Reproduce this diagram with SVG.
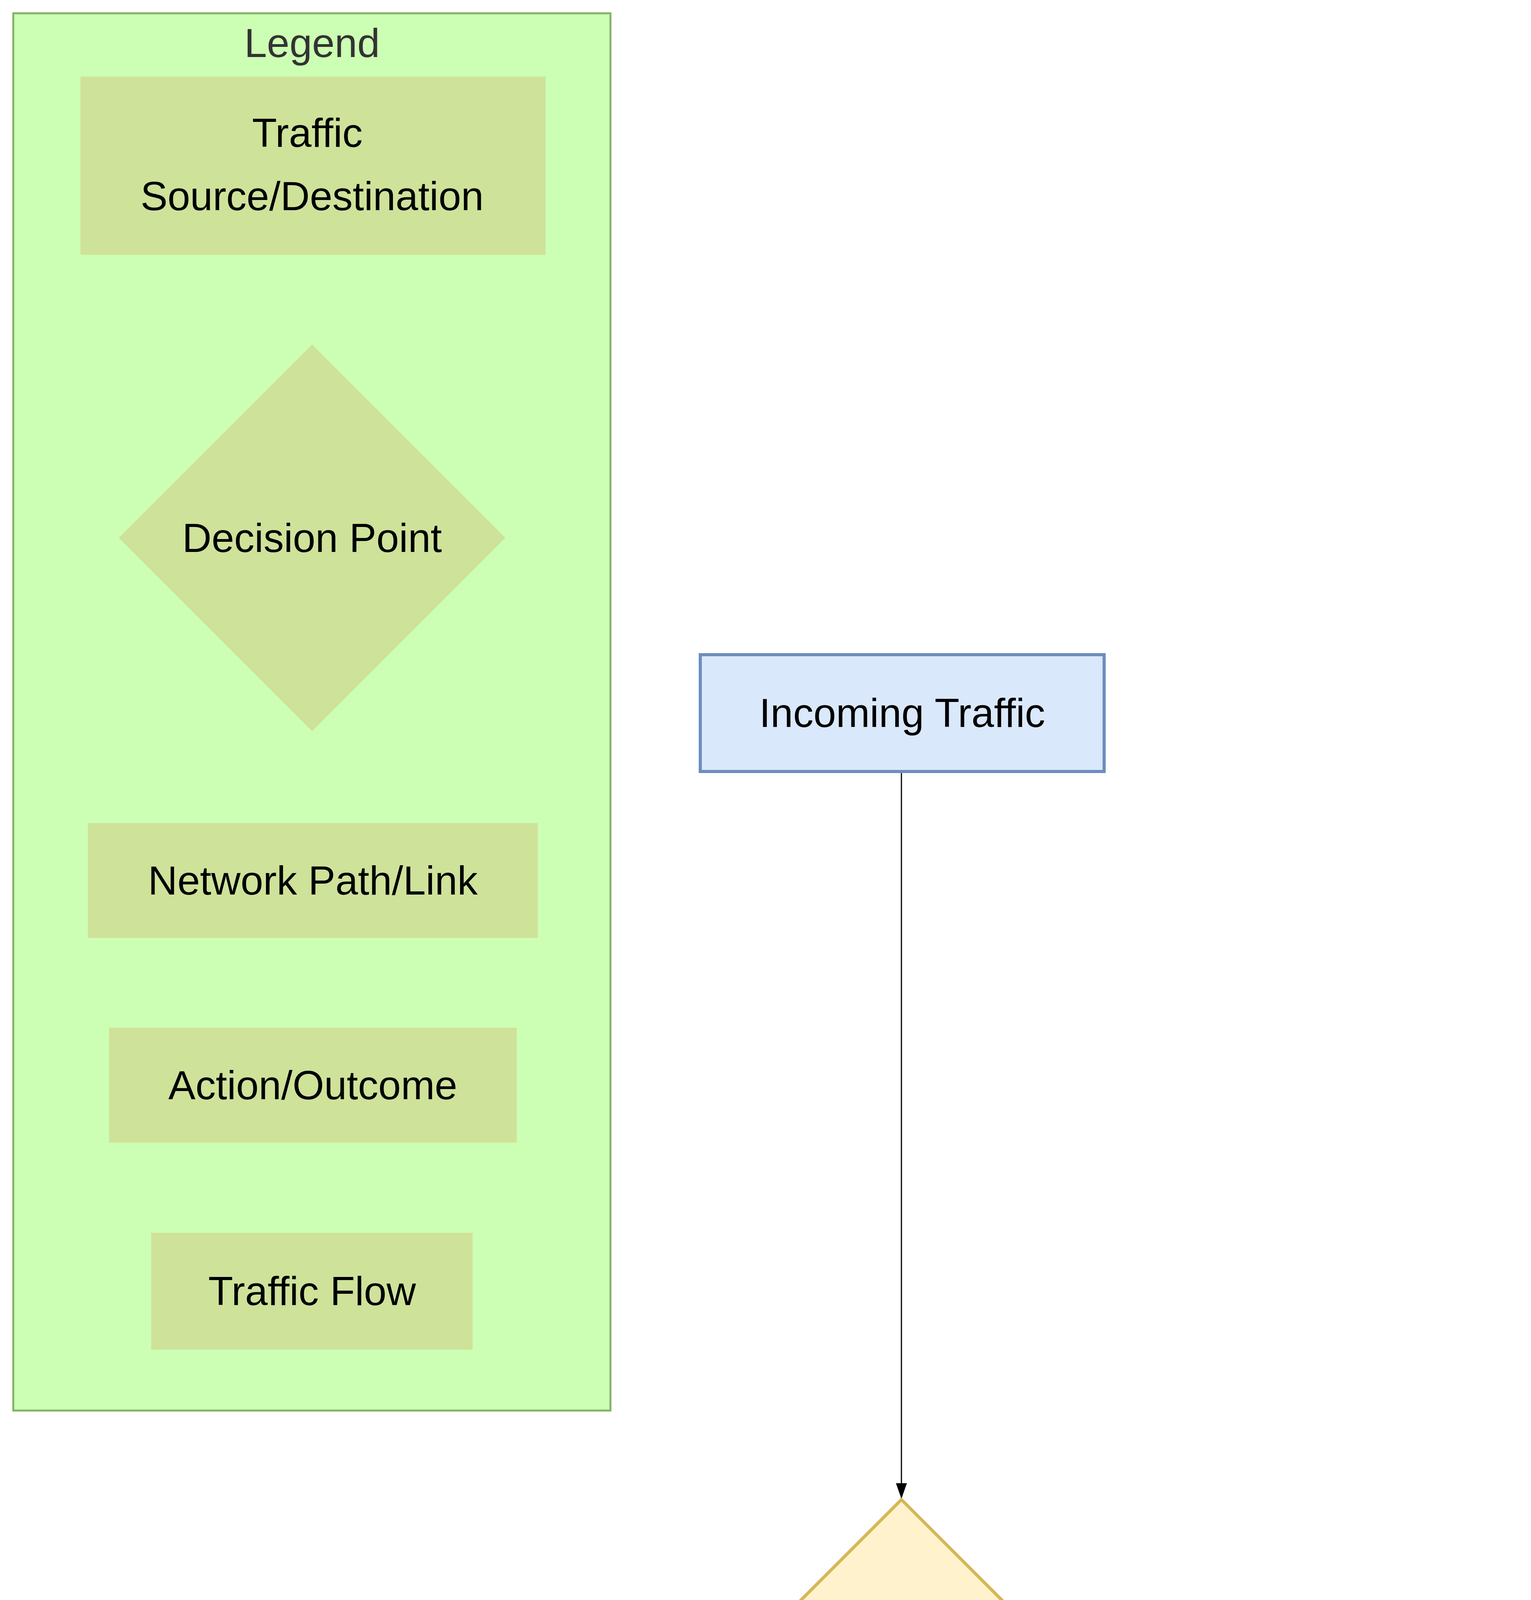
<svg xmlns="http://www.w3.org/2000/svg" width="3920" height="7680" viewBox="0 0 3920 7680">
<style>
text{font-family:"Liberation Sans",Arial,sans-serif;font-size:104px;fill:#000;text-anchor:middle;dominant-baseline:central}
.leg{fill:#cfe29a}
.e{fill:none;stroke:#000;stroke-width:3}
.lbl{fill:#e8e8e8}
</style>
<defs>
<marker id="ah" viewBox="0 0 10 10" refX="10" refY="5" markerWidth="14" markerHeight="14" markerUnits="userSpaceOnUse" orient="auto"><path d="M0,0L10,5L0,10z" fill="#000"/></marker>
<marker id="a" viewBox="0 0 10 10" refX="10" refY="5" markerWidth="40" markerHeight="40" markerUnits="userSpaceOnUse" orient="auto"><path d="M0,1.5L10,5L0,8.5z" fill="#000"/></marker>
</defs>
<rect width="3920" height="7680" fill="#fff"/>
<g id="legend">
<rect x="34" y="34" width="1529" height="3577" fill="#ccffb3" stroke="#82b366" stroke-width="5"/>
<text x="799" y="110" style="fill:#333">Legend</text>
<rect class="leg" x="206" y="196" width="1191" height="456"/>
<text x="787" y="340">Traffic</text><text x="799" y="502">Source/Destination</text>
<path class="leg" d="M799,882L1294,1377L799,1872L304,1377z"/>
<text x="799" y="1377">Decision Point</text>
<rect class="leg" x="225" y="2107" width="1152" height="294"/>
<text x="801" y="2254">Network Path/Link</text>
<rect class="leg" x="279" y="2631" width="1044" height="294"/>
<text x="801" y="2778">Action/Outcome</text>
<rect class="leg" x="387" y="3156" width="823" height="299"/>
<text x="799" y="3305">Traffic Flow</text>
</g>
<g id="connectors">
<path class="e" marker-end="url(#a)" d="M2308,1975L2308,3837"/>
<path class="e" d="M1936,4841C1650,5060 1440,5230 1323,5400"/>
<path class="e" marker-end="url(#a)" d="M1230,5728C1260,5800 1310,5860 1357,5919"/>
<path class="e" d="M2176,5076L2092,5400"/>
<path class="e" marker-end="url(#a)" d="M2004,5728L1945,5919"/>
<path class="e" d="M2636,4880C2790,5040 2920,5190 3009,5319"/>
<path class="e" marker-end="url(#a)" d="M3234,5811C3250,5900 3254,6000 3254,6164"/>
<path class="e" marker-end="url(#a)" d="M1798,6875L1798,7100"/>
<path class="e" marker-end="url(#a)" d="M3254,6630L3254,7100"/>
</g>
<g id="incoming">
<rect x="1793" y="1676" width="1034" height="299" fill="#dae8fc" stroke="#6c8ebf" stroke-width="8"/>
<text x="2310" y="1825">Incoming Traffic</text>
</g>
<g id="pbf">
<path d="M2308,3839L2992,4523L2308,5207L1624,4523z" fill="#fff2cc" stroke="#d6b656" stroke-width="8"/>
<text x="2296" y="4441">PBF Rule</text><text x="2310" y="4603">Evaluation</text>
</g>
<g id="lbl-ftp">
<rect class="lbl" x="605" y="5401" width="905" height="325"/>
<text x="1045" y="5482">Application = FTP</text><text x="1057" y="5644">Not Encrypted?</text>
</g>
<g id="lbl-biz">
<rect class="lbl" x="1600" y="5401" width="903" height="325"/>
<text x="2036" y="5482">Application =</text><text x="2052" y="5644">Business-Critical?</text>
</g>
<g id="lbl-other">
<rect class="lbl" x="2797" y="5319" width="905" height="488"/>
<text x="3237" y="5400">Other Traffic e.g.</text><text x="3237" y="5562">Web Browsing,</text><text x="3250" y="5724">Encrypted Apps</text>
</g>
<g id="leased">
<rect x="1207" y="5919" width="1179" height="956" fill="#d5e8d4" stroke="#82b366" stroke-width="8"/>
<text x="1782" y="6066">Leased Line -</text><text x="1782" y="6228">High Bandwidth,</text><text x="1782" y="6392">Low Latency,</text><text x="1782" y="6554">More Secure for</text><text x="1796" y="6716">Unencrypted</text>
</g>
<g id="internet">
<rect x="2666" y="6164" width="1176" height="466" fill="#e1d5e7" stroke="#9673a6" stroke-width="8"/>
<text x="3237" y="6306">Internet Link -</text><text x="3252" y="6468">Cheaper</text>
</g>
<g id="egress-leased">
<rect x="1207" y="7100" width="1179" height="461" fill="#d5e8d4" stroke="#82b366" stroke-width="8"/>
<text x="1782" y="7240">Egress via</text><text x="1796" y="7402">Leased Line</text>
</g>
<g id="egress-internet">
<rect x="2666" y="7100" width="1176" height="461" fill="#e1d5e7" stroke="#9673a6" stroke-width="8"/>
<text x="3240" y="7240">Egress via</text><text x="3252" y="7402">Internet Link</text>
</g>
</svg>
